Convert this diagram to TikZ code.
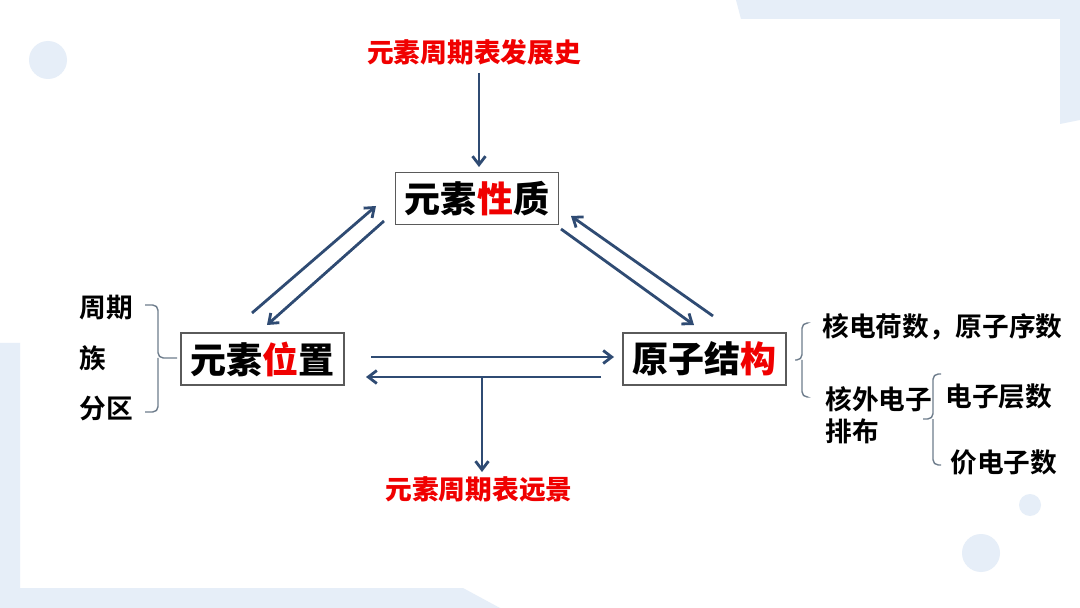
\documentclass[tikz,border=0pt]{standalone}
\usepackage{fontspec}
\usepackage{xcolor}
\usetikzlibrary{arrows.meta, positioning}
\newfontfamily\cjk{Noto Sans CJK SC Bold}
\newfontfamily\cjkheavy{Noto Sans CJK SC Black}
\definecolor{arrowblue}{RGB}{47,75,115}
\definecolor{bgblue}{RGB}{230,238,248}
\definecolor{boxgray}{RGB}{90,90,90}
\definecolor{bracegray}{RGB}{110,125,140}
\definecolor{titlered}{RGB}{240,0,0}

\tikzset{
  keybox/.style={draw=boxgray, line width=0.7pt, fill=white, minimum width=163*0.02cm,
    minimum height=52*0.02cm, inner sep=0pt, font=\cjkheavy\fontsize{20.5pt}{22pt}\selectfont},
  redtitle/.style={text=titlered, inner sep=0pt, font=\cjkheavy\fontsize{15.2pt}{17pt}\selectfont},
  sidetext/.style={inner sep=0pt, font=\cjk\fontsize{15.2pt}{17pt}\selectfont},
  link/.style={arrowblue, line width=1.6pt, -{Straight Barb[length=1.7mm, width=2.6mm, line width=1.6pt]}},
  bracket/.style={bracegray, line width=0.8pt, rounded corners=3pt}
}

\begin{document}
\begin{tikzpicture}[x=0.02cm, y=-0.02cm]
    % Background
    \fill[white] (0,0) rectangle (1080,608);
    \useasboundingbox (0,0) rectangle (1080,608);
    \fill[bgblue] (736,0) -- (1080,0) -- (1080,120) -- (1060,124) -- (1060,19) -- (741,19) -- cycle;
    \fill[bgblue] (0,343) -- (20,343) -- (20,588) -- (463,588) -- (500,608) -- (0,608) -- cycle;
    \fill[bgblue] (48,60) circle (19);
    \fill[bgblue] (1030,505) circle (11);
    \fill[bgblue] (981,553) circle (19);

    % Main boxes
    \node[keybox] (prop) at (477,198.5) {元素\textcolor{titlered}{性}质};
    \node[keybox] (pos)  at (262.5,359) {元素\textcolor{titlered}{位}置};
    \node[keybox] (struct) at (704.5,359) {原子结\textcolor{titlered}{构}};

    % Titles
    \node[redtitle] (hist) at (474,52) {元素周期表发展史};
    \node[redtitle] (future) at (479,489) {元素周期表远景};

    % Arrow end points
    \coordinate (histS) at (479,73);   \coordinate (histE) at (479,167);
    \coordinate (a1S) at (252,313);    \coordinate (a1E) at (376,206);
    \coordinate (a2S) at (384,221);    \coordinate (a2E) at (267,325);
    \coordinate (b1S) at (561,229);    \coordinate (b1E) at (694,325);
    \coordinate (b2S) at (713,316);    \coordinate (b2E) at (571,216);
    \coordinate (c1S) at (371,357);    \coordinate (c1E) at (614,357);
    \coordinate (c2S) at (601,377);    \coordinate (c2E) at (366,377);
    \coordinate (futS) at (482,377);   \coordinate (futE) at (482,472);

    % Links
    \draw[link] (histS) -- (histE);
    \draw[link] (a1S) -- (a1E);
    \draw[link] (a2S) -- (a2E);
    \draw[link] (b1S) -- (b1E);
    \draw[link] (b2S) -- (b2E);
    \draw[link] (c1S) -- (c1E);
    \draw[link] (c2S) -- (c2E);
    \draw[link] (futS) -- (futE);

    % Position details
    \node[sidetext] (period) at (106,308) {周期};
    \node[sidetext] (group) at (93,358) {族};
    \node[sidetext] (block) at (106,409) {分区};
    \draw[bracket] (145,305) -- (158,305) -- (158,358) -- (177,358);
    \draw[bracket] (145,412) -- (158,412) -- (158,358);

    % Structure details
    \node[sidetext, anchor=west] (charge) at (822,327) {核电荷数，原子序数};
    \node[sidetext, anchor=west] (outer) at (825,399) {核外电子};
    \node[sidetext, anchor=west] (layout) at (825,431) {排布};
    \node[sidetext, anchor=west] (shell) at (945,396) {电子层数};
    \node[sidetext, anchor=west] (valence) at (950,462) {价电子数};
    \draw[bracket] (807,323) -- (802,323) -- (802,360) -- (795,360);
    \draw[bracket] (807,397) -- (802,397) -- (802,360);
    \draw[bracket] (941,374) -- (933,374) -- (933,419) -- (923,419);
    \draw[bracket] (941,465) -- (933,465) -- (933,419);
\end{tikzpicture}
\end{document}
